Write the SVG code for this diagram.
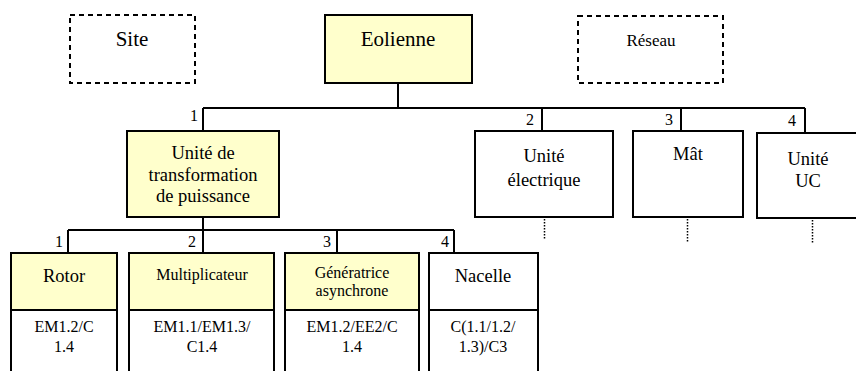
<svg xmlns="http://www.w3.org/2000/svg" width="856" height="371" viewBox="0 0 856 371" font-family="'Liberation Serif', 'DejaVu Serif', 'Times New Roman', serif">
<style>
  text { fill: #000; text-anchor: middle; }
  .box { stroke: #000; stroke-width: 2; }
  .y { fill: #FFFFCC; }
  .w { fill: #FFFFFF; }
  .dash { fill: none; stroke: #000; stroke-width: 2; stroke-dasharray: 5 4; }
  .ln { fill: none; stroke: #000; stroke-width: 2; }
  .dot { fill: none; stroke: #000; stroke-width: 1.5; stroke-dasharray: 1.5 1.5; }
  .num { font-size: 16px; text-anchor: end; }
  .big { font-size: 21px; }
  .mid { font-size: 18.5px; }
  .sm { font-size: 16px; }
  .ref { font-size: 16px; }
</style>
<rect width="856" height="371" fill="#FFFFFF"/>
<g id="connectors">
  <path class="ln" d="M398 83 V108 M203 108 H805 M203 108 V131 M542 108 V131 M681 108 V131 M805 108 V133"/>
  <path class="ln" d="M203 217 V230 M68 230 H454 M68 230 V253 M203 230 V253 M337 230 V253 M454 230 V253"/>
  <path class="dot" d="M544.5 219 V240 M687.5 219 V242 M812.5 220 V244"/>
  <text class="num" x="198" y="121">1</text>
  <text class="num" x="534" y="125">2</text>
  <text class="num" x="673" y="125">3</text>
  <text class="num" x="796" y="126">4</text>
  <text class="num" x="63" y="247">1</text>
  <text class="num" x="196" y="247">2</text>
  <text class="num" x="331" y="247">3</text>
  <text class="num" x="449" y="247">4</text>
</g>
<g id="site">
  <rect class="dash" x="70" y="15" width="125" height="68"/>
  <text class="big" x="132" y="46">Site</text>
</g>
<g id="eolienne">
  <rect class="box y" x="325" y="15" width="147" height="68"/>
  <text class="big" x="398" y="46">Eolienne</text>
</g>
<g id="reseau">
  <rect class="dash" x="578" y="16" width="145" height="67"/>
  <text x="651" y="46" style="font-size:17px">Réseau</text>
</g>
<g id="unite-transformation">
  <rect class="box y" x="127" y="131" width="152" height="86"/>
  <text class="mid" x="203" y="159">Unité de</text>
  <text class="mid" x="203" y="181">transformation</text>
  <text class="mid" x="203" y="202">de puissance</text>
</g>
<g id="unite-electrique">
  <rect class="box w" x="475" y="131" width="138" height="86"/>
  <text class="mid" x="544" y="162">Unité</text>
  <text class="mid" x="544" y="186">électrique</text>
</g>
<g id="mat">
  <rect class="box w" x="633" y="131" width="110" height="86"/>
  <text class="mid" x="688" y="160">Mât</text>
</g>
<g id="unite-uc">
  <rect class="box w" x="757" y="133" width="101" height="85"/>
  <text class="mid" x="808" y="165">Unité</text>
  <text class="mid" x="808" y="187">UC</text>
</g>
<g id="rotor">
  <rect class="box y" x="11" y="253" width="106" height="57"/>
  <rect class="box w" x="11" y="310" width="106" height="65"/>
  <text class="mid" x="64" y="282">Rotor</text>
  <text class="ref" x="64" y="332">EM1.2/C</text>
  <text class="ref" x="64" y="352">1.4</text>
</g>
<g id="multiplicateur">
  <rect class="box y" x="129" y="253" width="145" height="57"/>
  <rect class="box w" x="129" y="310" width="145" height="65"/>
  <text class="sm" x="202" y="280">Multiplicateur</text>
  <text class="ref" x="202" y="332">EM1.1/EM1.3/</text>
  <text class="ref" x="202" y="352">C1.4</text>
</g>
<g id="generatrice">
  <rect class="box y" x="285" y="253" width="134" height="57"/>
  <rect class="box w" x="285" y="310" width="134" height="65"/>
  <text class="sm" x="352" y="278">Génératrice</text>
  <text class="sm" x="352" y="296">asynchrone</text>
  <text class="ref" x="352" y="332">EM1.2/EE2/C</text>
  <text class="ref" x="352" y="352">1.4</text>
</g>
<g id="nacelle">
  <rect class="box w" x="429" y="253" width="109" height="57"/>
  <rect class="box w" x="429" y="310" width="109" height="65"/>
  <text class="mid" x="483" y="282">Nacelle</text>
  <text class="ref" x="483" y="332">C(1.1/1.2/</text>
  <text class="ref" x="483" y="352">1.3)/C3</text>
</g>
</svg>
